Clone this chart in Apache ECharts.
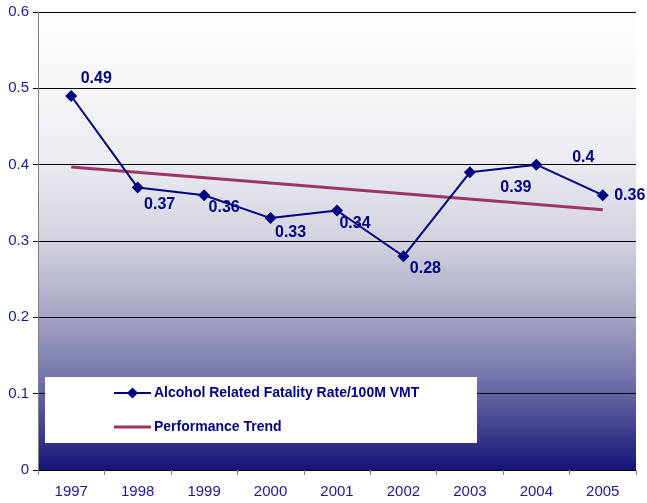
<!DOCTYPE html>
<html><head><meta charset="utf-8">
<script src="https://cdn.jsdelivr.net/npm/echarts@6/dist/echarts.min.js"></script>
<style>html,body{margin:0;padding:0;background:#fff}#c{width:647px;height:503px}</style>
</head><body><div id="c"></div>
<script>
const years = ['1997','1998','1999','2000','2001','2002','2003','2004','2005'];
const fatalityRate = [0.49,0.37,0.36,0.33,0.34,0.28,0.39,0.40,0.36];
const trendValues = [0.397,null,null,null,null,null,null,null,0.341];
const labelOffsets = [[25,-17],[22,17],[20,12],[20,14],[18,13],[22,12],[46,15],[47,-7],[27,0]];
const yTicks = [0,0.1,0.2,0.3,0.4,0.5,0.6];

const font = 'Liberation Sans, Arial, sans-serif';
const navy = '#000080';
const chart = echarts.init(document.getElementById('c'));
chart.setOption({
  animation:false,
  grid:{left:38,right:11,top:12,bottom:33,show:true,borderWidth:0,
    backgroundColor:{type:'linear',x:0,y:0,x2:0,y2:1,colorStops:[
      {offset:0,color:'#ffffff'},{offset:0.3,color:'#eeeef3'},{offset:0.5,color:'#d2d2df'},
      {offset:0.65,color:'#a9a9c6'},{offset:0.8,color:'#7474aa'},{offset:0.92,color:'#3c3c8c'},{offset:1,color:'#131378'}]}},
  xAxis:{type:'category',data:years,boundaryGap:true,
    axisLine:{lineStyle:{color:'#000',width:1}},
    axisTick:{show:true,length:5,lineStyle:{color:'#808080'}},
    axisLabel:{color:'#1a1a8c',fontFamily:font,fontSize:15,margin:14}},
  yAxis:{type:'value',min:0,max:0.6,interval:0.1,
    axisLine:{show:true,lineStyle:{color:'#808080',width:1}},
    axisTick:{show:true,length:5,lineStyle:{color:'#000'}},
    axisLabel:{color:'#1a1a8c',fontFamily:font,fontSize:15,margin:9,
      formatter:v=>String(+v.toFixed(1))},
    splitLine:{show:true,lineStyle:{color:'#000',width:1}}},
  legend:{orient:'vertical',left:113,top:386,padding:0,itemGap:20,itemWidth:37,itemHeight:14,z:10,
    textStyle:{color:navy,fontFamily:font,fontSize:14,fontWeight:'bold',padding:[0,0,0,-2]},
    data:['Alcohol Related Fatality Rate/100M VMT',
      {name:'Performance Trend',icon:'path://M0 0H37V3H0Z'}]},
  graphic:[{type:'rect',left:45,top:377,z:5,shape:{width:432,height:66},style:{fill:'#fff'}}],
  series:[
    {name:'Alcohol Related Fatality Rate/100M VMT',type:'line',data:fatalityRate.map((v,i)=>({value:v,
        label:{offset:labelOffsets[i]}})),
      symbol:'diamond',symbolSize:12,z:3,
      lineStyle:{color:navy,width:2},itemStyle:{color:navy},
      label:{show:true,position:'inside',color:navy,fontFamily:font,fontSize:16,fontWeight:'bold',
        formatter:p=>String(p.value)}},
    {name:'Performance Trend',type:'line',data:trendValues,connectNulls:true,showSymbol:false,symbol:'none',z:2,
      lineStyle:{color:'#9c3468',width:3},itemStyle:{color:'#9c3468'}}
  ]
});
</script></body></html>
